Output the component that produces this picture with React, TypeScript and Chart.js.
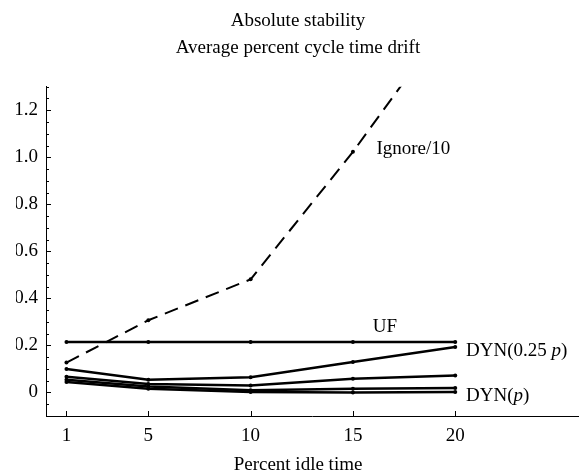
import { useEffect, useRef } from 'react';
import { Chart, registerables } from 'chart.js';

Chart.register(...registerables);

const xValues = [1, 5, 10, 15, 20];
const ignore10 = [0.127, 0.307, 0.481, 1.023, 1.62];
const uf = [0.215, 0.215, 0.215, 0.215, 0.215];
const dyn025p = [0.1, 0.054, 0.065, 0.13, 0.193];
const dynB = [0.067, 0.036, 0.03, 0.058, 0.072];
const dynC = [0.054, 0.025, 0.01, 0.016, 0.019];
const dynP = [0.045, 0.016, 0.002, 0.0, 0.002];

const xTickValues = [1, 5, 10, 15, 20];
const xTickLabels = ['1', '5', '10', '15', '20'];
const yTickValues = [0, 0.2, 0.4, 0.6, 0.8, 1.0, 1.2];
const yTickLabels = ['0', '0.2', '0.4', '0.6', '0.8', '1.0', '1.2'];

const titleLines = ['Absolute stability', 'Average percent cycle time drift'];
const xAxisTitle = 'Percent idle time';

const FAMILY = '"Liberation Serif", "Times New Roman", serif';

const toPoints = (arr: number[]) => xValues.map((x, i) => ({ x, y: arr[i] }));

const decorPlugin = {
  id: 'decor',
  afterDraw(chart: any) {
    const ctx = chart.ctx;
    const xs = chart.scales.x;
    const ys = chart.scales.y;
    const area = chart.chartArea;
    ctx.save();
    ctx.strokeStyle = '#000';
    ctx.lineWidth = 1;
    // y ticks (inward), major and minor
    for (let i = -2; i <= 26; i++) {
      const v = i * 0.05;
      const py = Math.round(ys.getPixelForValue(v)) + 0.5;
      if (py < area.top - 0.5 || py > area.bottom + 0.5) continue;
      const len = i % 4 === 0 ? 5 : 3;
      ctx.beginPath();
      ctx.moveTo(area.left, py);
      ctx.lineTo(area.left + len, py);
      ctx.stroke();
    }
    // x ticks (inward)
    xTickValues.forEach((v) => {
      const px = Math.round(xs.getPixelForValue(v)) + 0.5;
      ctx.beginPath();
      ctx.moveTo(px, area.bottom);
      ctx.lineTo(px, area.bottom - 5);
      ctx.stroke();
    });
    // series labels
    ctx.fillStyle = '#000';
    ctx.textBaseline = 'alphabetic';
    ctx.textAlign = 'left';
    const normal = `19px ${FAMILY}`;
    const italic = `italic 19px ${FAMILY}`;
    const drawParts = (parts: [string, boolean][], x: number, y: number) => {
      let cx = x;
      parts.forEach(([t, it]) => {
        ctx.font = it ? italic : normal;
        ctx.fillText(t, cx, y);
        cx += ctx.measureText(t).width;
      });
    };
    drawParts([['Ignore/10', false]], xs.getPixelForValue(16.15), ys.getPixelForValue(1.016));
    drawParts([['UF', false]], xs.getPixelForValue(15.97), ys.getPixelForValue(0.255));
    drawParts([['DYN(0.25 ', false], ['p', true], [')', false]], xs.getPixelForValue(20.53), ys.getPixelForValue(0.156));
    drawParts([['DYN(', false], ['p', true], [')', false]], xs.getPixelForValue(20.53), ys.getPixelForValue(-0.038));
    ctx.restore();
  },
};

const solid = (arr: number[]) => ({
  data: toPoints(arr),
  borderColor: '#000',
  borderWidth: 2.5,
  pointRadius: 2,
  pointBackgroundColor: '#000',
  pointBorderWidth: 0,
  tension: 0,
  fill: false,
});

export default function App() {
  const ref = useRef<HTMLCanvasElement | null>(null);
  useEffect(() => {
    if (!ref.current) return;
    const tickFont = { family: FAMILY, size: 19, weight: 'normal' as const };
    const chart = new Chart(ref.current, {
      type: 'line',
      data: {
        datasets: [
          { label: 'Ignore/10', ...solid(ignore10), borderWidth: 2, borderDash: [14, 8] },
          { label: 'UF', ...solid(uf) },
          { label: 'DYN(0.25 p)', ...solid(dyn025p) },
          { label: 'DYN(0.5 p)', ...solid(dynB) },
          { label: 'DYN(0.75 p)', ...solid(dynC) },
          { label: 'DYN(p)', ...solid(dynP) },
        ],
      },
      options: {
        responsive: false,
        animation: false,
        layout: { padding: { left: 16, right: 2, top: 0, bottom: 0 } },
        plugins: {
          legend: { display: false },
          tooltip: { enabled: false },
          title: {
            display: true,
            text: titleLines,
            color: '#000',
            font: { family: FAMILY, size: 19, weight: 'normal', lineHeight: 1.45 },
            padding: { top: 7, bottom: 24.6 },
          },
          subtitle: {
            display: true,
            position: 'bottom',
            text: xAxisTitle,
            color: '#000',
            font: { family: FAMILY, size: 19, weight: 'normal', lineHeight: 1.0 },
            padding: { top: 0, bottom: 1 },
          },
        },
        scales: {
          x: {
            type: 'linear',
            min: 0,
            max: 26,
            afterBuildTicks: (s: any) => {
              s.ticks = xTickValues.map((v) => ({ value: v }));
            },
            afterFit: (s: any) => {
              s.height = 40;
            },
            ticks: {
              callback: (_v: any, i: number) => xTickLabels[i],
              autoSkip: false,
              maxRotation: 0,
              padding: 9,
              color: '#000',
              font: tickFont,
            },
            grid: { display: false, drawTicks: false },
            border: { display: true, color: '#000', width: 1 },
          },
          y: {
            type: 'linear',
            min: -0.1,
            max: 1.3,
            afterBuildTicks: (s: any) => {
              s.ticks = yTickValues.map((v) => ({ value: v }));
            },
            afterFit: (s: any) => {
              s.width = 30;
            },
            ticks: {
              callback: (_v: any, i: number) => yTickLabels[i],
              autoSkip: false,
              padding: 8,
              color: '#000',
              font: tickFont,
            },
            grid: { display: false, drawTicks: false },
            border: { display: true, color: '#000', width: 1 },
          },
        },
      },
      plugins: [decorPlugin],
    });
    return () => chart.destroy();
  }, []);
  return (
    <div style={{ position: 'fixed', left: 0, top: 0, width: 582, height: 476, background: '#fff' }}>
      <canvas ref={ref} width={582} height={476} style={{ display: 'block' }} />
    </div>
  );
}
